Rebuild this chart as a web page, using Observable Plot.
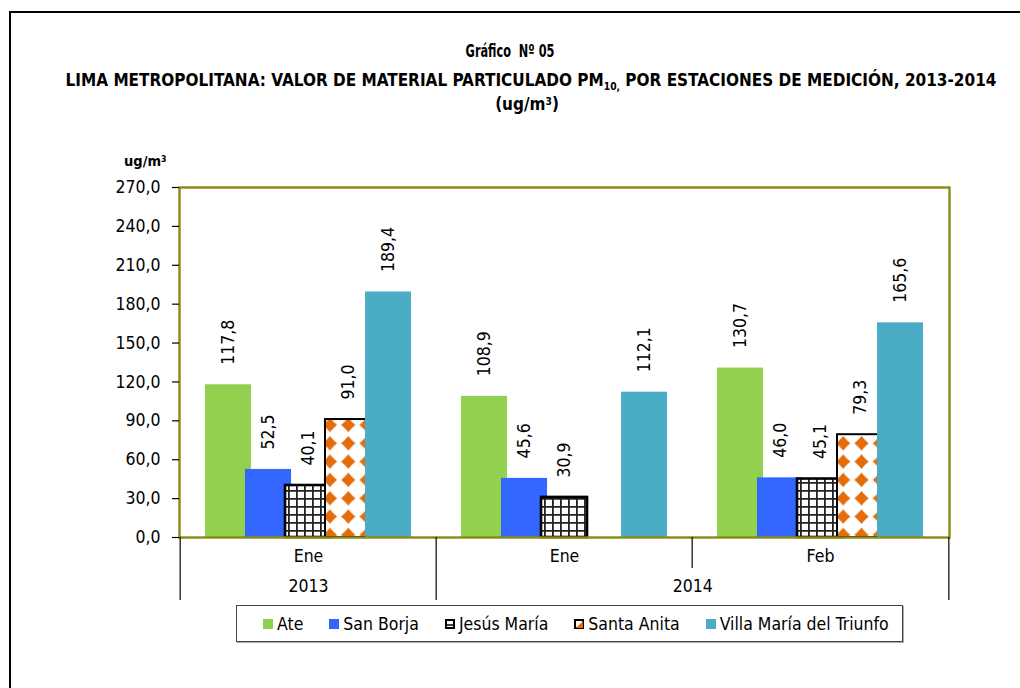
<!DOCTYPE html>
<html>
<head>
<meta charset="utf-8">
<script src="https://cdn.jsdelivr.net/npm/d3@7"></script>
<script src="https://cdn.jsdelivr.net/npm/@observablehq/plot@0.6"></script>
<style>
  html, body { margin: 0; padding: 0; background: #fff; }
  body { width: 1020px; height: 688px; position: relative; overflow: hidden;
         font-family: "DejaVu Sans Condensed", "DejaVu Sans", sans-serif; font-stretch: condensed; color: #000; }
  .outer { position: absolute; left: 9px; top: 11px; width: 1200px; height: 900px; border: 2px solid #000; box-sizing: border-box; }
  .t { position: absolute; left: 0; width: 1020px; text-align: center; font-weight: bold; white-space: nowrap; font-size: 17px; }
  .t sub { font-size: 60%; vertical-align: -0.35em; line-height: 0; }
  .t sup, .yl sup { font-size: 60%; vertical-align: 0.5em; line-height: 0; }
  .yl { position: absolute; left: 124px; top: 153px; font-weight: bold; font-size: 14.5px; }
  #chart { position: absolute; left: 0; top: 130px; }
  .legend { position: absolute; left: 236px; top: 605px; width: 667px; height: 37px; box-sizing: border-box;
            border: 1px solid #444; box-shadow: 1px 1px 0 #aaa; display: flex; align-items: center; padding-left: 26px; font-size: 17.5px; white-space: nowrap; }
  .item { display: flex; align-items: center; margin-right: 26px; flex-shrink: 0; }
  .sw { width: 10px; height: 10px; margin-right: 4px; display: inline-block; flex-shrink: 0; }
</style>
</head>
<body>
<svg width="0" height="0" style="position:absolute">
  <defs>
    <pattern id="pat-jm" patternUnits="userSpaceOnUse" width="8" height="8">
      <rect width="8" height="8" fill="#fff"/>
      <path d="M0,0.9H8M0.9,0V8" stroke="#222" stroke-width="1.8"/>
    </pattern>
    <pattern id="pat-sa" patternUnits="userSpaceOnUse" width="18.33" height="18.33" x="9.17" y="10.83">
      <rect width="18.33" height="18.33" fill="#fff"/>
      <path d="M9.17,2L11.3,4.4L12.6,5.7L13.9,7L16.3,9.17L13.9,11.3L12.6,12.6L11.3,13.9L9.17,16.3L7,13.9L5.7,12.6L4.4,11.3L2,9.17L4.4,7L5.7,5.7L7,4.4Z" fill="#e46c0a"/>
    </pattern>
  </defs>
</svg>
<div class="outer"></div>
<div class="t" style="top:41px;transform:scaleX(0.74);">Gráfico&nbsp; Nº 05</div>
<div class="t" style="top:70px;left:21px;">LIMA METROPOLITANA: VALOR DE MATERIAL PARTICULADO PM<sub>10,</sub> POR ESTACIONES DE MEDICIÓN, 2013-2014</div>
<div class="t" style="top:94px;left:17px;">(ug/m<sup>3</sup>)</div>
<div class="yl">ug/m<sup>3</sup></div>
<div id="chart"></div>
<div class="legend" id="legend"></div>
<script>
// ---- data ----
const periods = ["2013-Ene", "2014-Ene", "2014-Feb"];
const months = ["Ene", "Ene", "Feb"];
const years = ["2013", "2014", "2014"];
const stations = ["Ate", "San Borja", "Jesús María", "Santa Anita", "Villa María del Triunfo"];
const ate = [117.8, 108.9, 130.7];
const sanBorja = [52.5, 45.6, 46.0];
const jesusMaria = [40.1, 30.9, 45.1];
const santaAnita = [91.0, null, 79.3];
const villaMaria = [189.4, 112.1, 165.6];
const yTicks = [0, 30, 60, 90, 120, 150, 180, 210, 240, 270];

// ---- styles ----
const fills = ["#92d050", "#3366ff", "url(#pat-jm)", "url(#pat-sa)", "#4bacc6"];
const strokes = [null, null, "#000", "#000", null];
const strokeWidths = [0, 0, 2.6, 2, 0];
const olive = "#8a8a12";
const fontFamily = '"DejaVu Sans Condensed", "DejaVu Sans", sans-serif';
const fs = 17.5;

// ---- layout ----
const width = 1020, height = 475;
const mL = 179, mR = 71, mT = 57, mB = 68;
const frameW = width - mL - mR, frameH = height - mT - mB;
const band = frameW / periods.length;
const padL = 25, step = 40, barW = 46.7;

const series = [ate, sanBorja, jesusMaria, santaAnita, villaMaria];
const rows = periods.flatMap((p, i) => stations.map((s, j) => ({period: p, station: s, si: j, value: series[j][i]})))
  .filter(d => d.value != null);
const fmt = v => d3.format(".1f")(v).replace(".", ",");

const marks = [];
stations.forEach((s, j) => {
  const data = rows.filter(d => d.si === j);
  const insetLeft = padL + step * j;
  marks.push(Plot.barY(data, {
    x: "period", y: "value", fill: fills[j],
    stroke: strokes[j] || undefined, strokeWidth: strokeWidths[j],
    insetLeft, insetRight: band - insetLeft - barW
  }));
});
stations.forEach((s, j) => {
  const data = rows.filter(d => d.si === j);
  marks.push(Plot.text(data, {
    x: "period", y: "value", text: d => fmt(d.value), rotate: -90, textAnchor: "start",
    dx: padL + step * j + barW / 2 - band / 2, dy: -20, fontSize: fs
  }));
});
// frame
marks.push(Plot.frame({stroke: olive, strokeWidth: 2.4}));
// y axis ticks and labels
marks.push(Plot.ruleY(yTicks, {y: d => d, insetLeft: -7, insetRight: frameW, stroke: "#000", strokeWidth: 1.2}));
marks.push(Plot.text(yTicks, {y: d => d, text: d => fmt(d), frameAnchor: "left", textAnchor: "end", dx: -19, fontSize: fs}));
// x category separators
const isYearStart = (p, i) => i === 0 || years[i] !== years[i - 1];
const leftLong = periods.filter((p, i) => isYearStart(p, i));
const leftShort = periods.filter((p, i) => !isYearStart(p, i));
marks.push(Plot.ruleX(leftLong, {x: d => d, dx: -band / 2, insetTop: frameH, insetBottom: -63, stroke: "#000", strokeWidth: 1.2}));
marks.push(Plot.ruleX(leftShort, {x: d => d, dx: -band / 2, insetTop: frameH, insetBottom: -31, stroke: "#000", strokeWidth: 1.2}));
marks.push(Plot.ruleX([periods[periods.length - 1]], {x: d => d, dx: band / 2, insetTop: frameH, insetBottom: -63, stroke: "#000", strokeWidth: 1.2}));
// month labels
marks.push(Plot.text(periods, {x: d => d, text: (d, i) => months[i], frameAnchor: "bottom", lineAnchor: "middle", dy: 19, fontSize: fs}));
// year labels
[...new Set(years)].forEach(y => {
  const idx = years.map((v, i) => v === y ? i : -1).filter(i => i >= 0);
  marks.push(Plot.text([periods[idx[0]]], {x: d => d, text: [y], frameAnchor: "bottom", lineAnchor: "middle", dx: (idx.length - 1) * band / 2, dy: 49, fontSize: fs}));
});

const chart = Plot.plot({
  width, height,
  marginLeft: mL, marginRight: mR, marginTop: mT, marginBottom: mB,
  style: {fontFamily, fontSize: fs + "px", color: "#000", background: "transparent", overflow: "visible"},
  x: {domain: periods, padding: 0, axis: null},
  y: {domain: [0, 270], axis: null},
  marks
});
document.getElementById("chart").appendChild(chart);

// legend
const legend = document.getElementById("legend");
const swatchSvgs = [
  `<span class="sw" style="background:#92d050"></span>`,
  `<span class="sw" style="background:#3366ff"></span>`,
  `<svg class="sw" viewBox="0 0 10 10"><rect x="1" y="1" width="8" height="8" fill="#fff" stroke="#000" stroke-width="2"/><path d="M1,6H9" stroke="#000" stroke-width="1.5"/></svg>`,
  `<svg class="sw" viewBox="0 0 10 10"><rect x="1" y="1" width="8" height="8" fill="#fff" stroke="#000" stroke-width="2"/><path d="M9,2L9,9L2,9Z" fill="#e46c0a"/></svg>`,
  `<span class="sw" style="background:#4bacc6"></span>`
];
stations.forEach((s, j) => {
  const it = document.createElement("div");
  it.className = "item";
  it.innerHTML = swatchSvgs[j] + `<span>${s}</span>`;
  legend.appendChild(it);
});
</script>
</body>
</html>
